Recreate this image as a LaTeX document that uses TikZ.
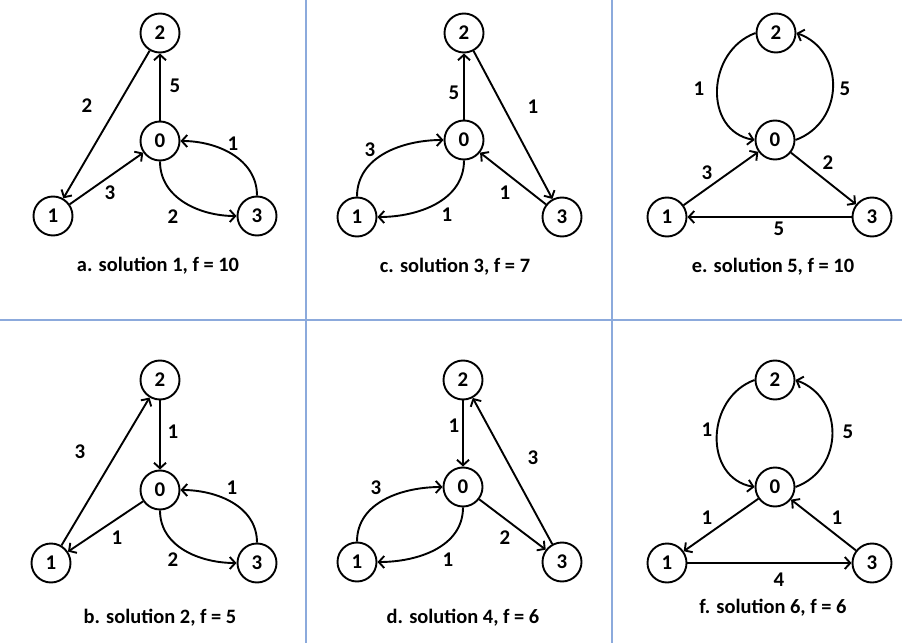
\documentclass[tikz,border=0pt]{standalone}
\usepackage{fontspec}
\setmainfont{Carlito}
\usetikzlibrary{arrows.meta}
\definecolor{sepblue}{RGB}{140,170,220}
\tikzset{
  vert/.style={circle, draw, line width=1.9bp, minimum size=39bp, inner sep=0pt,
    font=\fontsize{21}{21}\selectfont\bfseries},
  arr/.style={line width=1.9bp, -{Straight Barb[length=5.5bp, width=12bp, line width=1.9bp]}},
  lbl/.style={font=\fontsize{21}{21}\selectfont\bfseries, inner sep=0pt},
  captext/.style={font=\fontsize{20.5}{21}\selectfont\bfseries, inner sep=0pt},
  sepline/.style={draw=sepblue, line width=1.3bp}
}
\begin{document}
\begin{tikzpicture}[x=1bp, y=1bp]
\useasboundingbox (0,0) rectangle (902,-643);
% separators
\coordinate (v1t) at (306,0); \coordinate (v1b) at (306,-643);
\coordinate (v2t) at (612,0); \coordinate (v2b) at (612,-643);
\coordinate (hl) at (0,-320); \coordinate (hr) at (902,-320);
\draw[sepline] (v1t) -- (v1b);
\draw[sepline] (v2t) -- (v2b);
\draw[sepline] (hl) -- (hr);

% ---------- a ----------
\node[vert] (a2) at (160,-33) {2};
\node[vert] (a0) at (160,-141) {0};
\node[vert] (a1) at (53,-216) {1};
\node[vert] (a3) at (257,-216) {3};
\draw[arr] (a2) -- (a1);
\draw[arr] (a0) -- (a2);
\draw[arr] (a1) -- (a0);
\draw[arr] (a3.north) to[out=90, in=0] (a0.east);
\draw[arr] (a0.south) to[out=-90, in=180] (a3.west);
\node[lbl] (la1) at (87,-106) {2};
\node[lbl] (la2) at (175,-86) {5};
\node[lbl] (la3) at (110,-193) {3};
\node[lbl] (la4) at (233,-144) {1};
\node[lbl] (la5) at (173,-217) {2};
\node[captext] (capa) at (158,-266) {a. solution 1, f = 10};

% ---------- c ----------
\node[vert] (c2) at (464,-33) {2};
\node[vert] (c0) at (464,-140) {0};
\node[vert] (c1) at (357,-217) {1};
\node[vert] (c3) at (562,-217) {3};
\draw[arr] (c0) -- (c2);
\draw[arr] (c2) -- (c3);
\draw[arr] (c3) -- (c0);
\draw[arr] (c1.north) to[out=90, in=180] (c0.west);
\draw[arr] (c0.south) to[out=-90, in=0] (c1.east);
\node[lbl] (lc1) at (454,-93) {5};
\node[lbl] (lc2) at (533,-107) {1};
\node[lbl] (lc3) at (505,-193) {1};
\node[lbl] (lc4) at (370,-150) {3};
\node[lbl] (lc5) at (447,-215) {1};
\node[captext] (capc) at (455,-267) {c. solution 3, f = 7};

% ---------- e ----------
\node[vert] (e2) at (776,-33) {2};
\node[vert] (e0) at (775,-140) {0};
\node[vert] (e1) at (667,-217) {1};
\node[vert] (e3) at (872,-217) {3};
\draw[arr] (e2.west) to[out=200, in=170, looseness=1.25] (e0.west);
\draw[arr] (e0.east) to[out=20, in=-20, looseness=1.25] (e2.east);
\draw[arr] (e1) -- (e0);
\draw[arr] (e0) -- (e3);
\draw[arr] (e3) -- (e1);
\node[lbl] (le1) at (699,-89) {1};
\node[lbl] (le2) at (845,-89) {5};
\node[lbl] (le3) at (707,-173) {3};
\node[lbl] (le4) at (828,-163) {2};
\node[lbl] (le5) at (779,-229) {5};
\node[captext] (cape) at (773,-267) {e. solution 5, f = 10};

% ---------- b ----------
\node[vert] (b2) at (160,-380) {2};
\node[vert] (b0) at (160,-490) {0};
\node[vert] (b1) at (51,-563) {1};
\node[vert] (b3) at (257,-563) {3};
\draw[arr] (b1) -- (b2);
\draw[arr] (b2) -- (b0);
\draw[arr] (b0) -- (b1);
\draw[arr] (b3.north) to[out=90, in=0] (b0.east);
\draw[arr] (b0.south) to[out=-90, in=180] (b3.west);
\node[lbl] (lb1) at (80,-452) {3};
\node[lbl] (lb2) at (173,-432) {1};
\node[lbl] (lb3) at (117,-538) {1};
\node[lbl] (lb4) at (232,-488) {1};
\node[lbl] (lb5) at (173,-560) {2};
\node[captext] (capb) at (160,-618) {b. solution 2, f = 5};

% ---------- d ----------
\node[vert] (d2) at (463,-380) {2};
\node[vert] (d0) at (463,-487) {0};
\node[vert] (d1) at (357,-562) {1};
\node[vert] (d3) at (562,-562) {3};
\draw[arr] (d2) -- (d0);
\draw[arr] (d3) -- (d2);
\draw[arr] (d0) -- (d3);
\draw[arr] (d1.north) to[out=90, in=180] (d0.west);
\draw[arr] (d0.south) to[out=-90, in=0] (d1.east);
\node[lbl] (ld1) at (454,-426) {1};
\node[lbl] (ld2) at (533,-458) {3};
\node[lbl] (ld3) at (505,-538) {2};
\node[lbl] (ld4) at (376,-488) {3};
\node[lbl] (ld5) at (448,-560) {1};
\node[captext] (capd) at (463,-618) {d. solution 4, f = 6};

% ---------- f ----------
\node[vert] (f2) at (775,-380) {2};
\node[vert] (f0) at (775,-487) {0};
\node[vert] (f1) at (667,-563) {1};
\node[vert] (f3) at (872,-563) {3};
\draw[arr] (f2.west) to[out=200, in=170, looseness=1.25] (f0.west);
\draw[arr] (f0.east) to[out=20, in=-20, looseness=1.25] (f2.east);
\draw[arr] (f0) -- (f1);
\draw[arr] (f3) -- (f0);
\draw[arr] (f1) -- (f3);
\node[lbl] (lf1) at (707,-430) {1};
\node[lbl] (lf2) at (848,-432) {5};
\node[lbl] (lf3) at (707,-518) {1};
\node[lbl] (lf4) at (837,-518) {1};
\node[lbl] (lf5) at (779,-580) {4};
\node[captext] (capf) at (773,-608) {f. solution 6, f = 6};
\end{tikzpicture}
\end{document}
